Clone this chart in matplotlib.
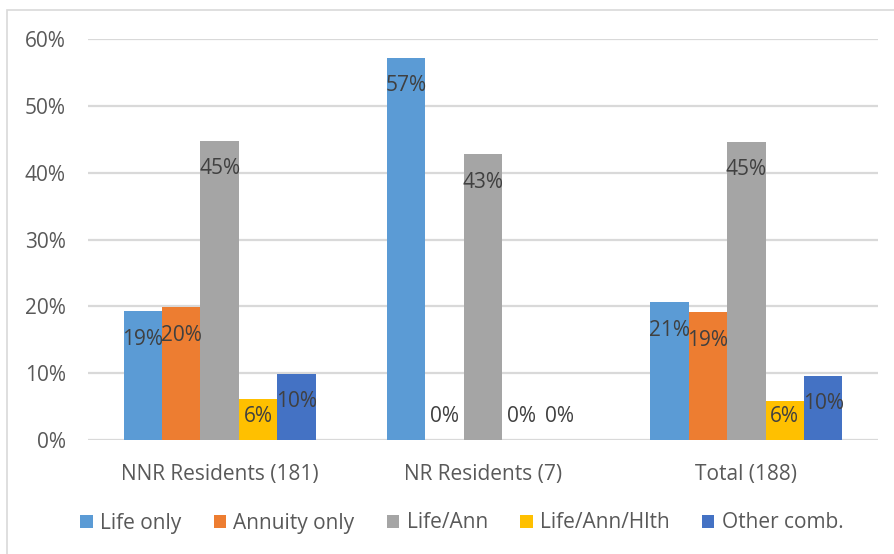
import numpy as np
import matplotlib.pyplot as plt
from matplotlib.patches import Rectangle
from matplotlib.ticker import PercentFormatter

groups = ["NNR Residents (181)", "NR Residents (7)", "Total (188)"]
series = ["Life only", "Annuity only", "Life/Ann", "Life/Ann/Hlth", "Other comb."]
life_only = [0.193, 0.572, 0.206]
annuity_only = [0.199, 0.0, 0.191]
life_ann = [0.448, 0.428, 0.446]
life_ann_hlth = [0.061, 0.0, 0.058]
other_comb = [0.099, 0.0, 0.096]
colors = ["#5B9BD5", "#ED7D31", "#A5A5A5", "#FFC000", "#4472C4"]

plt.rcParams['font.family'] = ['Open Sans', 'DejaVu Sans']
text_col = "#595959"
fs = 15

fig = plt.figure(figsize=(8.95, 5.54), dpi=100)
fig.patches.append(Rectangle((7 / 895, -0.1), 1.2, (554 - 10) / 554 + 0.1,
                             transform=fig.transFigure, fill=False,
                             edgecolor="#D9D9D9", linewidth=1.2))
ax = fig.add_axes([88 / 895, (554 - 440) / 554, (878 - 88) / 895, 401 / 554])

x = np.arange(len(groups))
w = 0.146
for i, (name, vals) in enumerate(zip(series, [life_only, annuity_only, life_ann,
                                              life_ann_hlth, other_comb])):
    pos = x + (i - 2) * w
    ax.bar(pos, vals, w, color=colors[i], label=name, zorder=2)
    for p, v in zip(pos, vals):
        y = max(v - 0.042, 0.0345)
        ax.text(p, y, f"{v * 100:.0f}%", ha="center", va="center",
                fontsize=fs, color="#404040", zorder=3)

ax.set_xlim(-0.5, 2.5)
ax.set_ylim(0, 0.6)
ax.set_yticks(np.arange(0, 0.61, 0.1))
ax.yaxis.set_major_formatter(PercentFormatter(1.0, decimals=0))
ax.set_xticks(x)
ax.set_xticklabels(groups)
ax.tick_params(length=0, labelsize=fs, colors=text_col)
ax.tick_params(axis="x", pad=17)
ax.tick_params(axis="y", pad=16)
ax.grid(axis="y", color="#D9D9D9", linewidth=1.6, zorder=0)
ax.set_axisbelow(True)
for s in ax.spines.values():
    s.set_visible(False)

fig.legend(loc="center", bbox_to_anchor=(0.516, 1 - 523 / 554), ncol=5,
           frameon=False, fontsize=fs, handlelength=0.6, handleheight=0.6,
           handletextpad=0.35, columnspacing=1.55, labelcolor=text_col)

fig.savefig("out.png", dpi=100)
